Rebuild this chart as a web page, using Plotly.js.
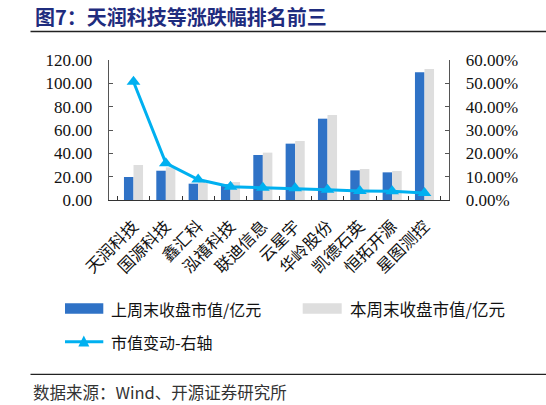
<!DOCTYPE html>
<html>
<head>
<meta charset="utf-8">
<script src="https://cdn.plot.ly/plotly-3.0.1.min.js"></script>
<style>html,body{margin:0;padding:0;background:#fff;}#chart{width:546px;height:405px;}</style>
</head>
<body>
<div id="chart"></div>
<script>
const categories = ['天润科技','国源科技','鑫汇科','泓禧科技','联迪信息','云星宇','华岭股份','凯德石英','恒拓开源','星图测控'];
const lastWeekCap = [19.7, 25.1, 14.0, 13.5, 38.6, 48.3, 69.7, 25.4, 23.7, 109.4];
const thisWeekCap = [30.0, 28.0, 15.7, 15.4, 40.6, 50.6, 72.9, 26.6, 24.9, 112.3];
const capChangePct = [50.7, 15.8, 8.8, 5.7, 5.3, 5.0, 4.4, 3.9, 3.7, 3.0];
const seriesNames = ['上周末收盘市值/亿元', '本周末收盘市值/亿元', '市值变动-右轴'];
const titleText = '图7：天润科技等涨跌幅排名前三';
const sourceText = '数据来源：Wind、开源证券研究所';

const W = 546, H = 405;
const M = {l: 109, r: 97, t: 60, b: 205};
const PW = W - M.l - M.r, PH = H - M.t - M.b;
const px = x => (x - M.l) / PW;
const py = y => (H - M.b - y) / PH;

const BLUE = '#2F72C6', GREY = '#DEDEDE', CYAN = '#00B0F0';
const CJK = 'Noto Sans CJK SC';
const SERIF = 'Liberation Serif, Times New Roman, serif';

const traces = [
  {type: 'bar', x: categories, y: lastWeekCap, name: seriesNames[0], marker: {color: BLUE}, hoverinfo: 'skip'},
  {type: 'bar', x: categories, y: thisWeekCap, name: seriesNames[1], marker: {color: GREY}, hoverinfo: 'skip'},
  {type: 'scatter', mode: 'lines+markers', x: categories, y: capChangePct, name: seriesNames[2], yaxis: 'y2',
   line: {color: CYAN, width: 3}, marker: {symbol: 'triangle-up', size: 12, color: CYAN}, hoverinfo: 'skip'}
];

const shapes = [
  {type: 'line', xref: 'paper', yref: 'paper', x0: px(30.5), x1: px(546), y0: py(31.5), y1: py(31.5), line: {color: '#222', width: 1.3}},
  {type: 'line', xref: 'paper', yref: 'paper', x0: px(30.5), x1: px(546), y0: py(374.3), y1: py(374.3), line: {color: '#222', width: 1.3}},
  {type: 'rect', xref: 'paper', yref: 'paper', x0: px(65), x1: px(103.3), y0: py(303.3), y1: py(313.8), line: {width: 0}, fillcolor: BLUE},
  {type: 'rect', xref: 'paper', yref: 'paper', x0: px(302.7), x1: px(341.7), y0: py(303.3), y1: py(313.8), line: {width: 0}, fillcolor: GREY},
  {type: 'line', xref: 'paper', yref: 'paper', x0: px(65), x1: px(103.3), y0: py(341.7), y1: py(341.7), line: {color: CYAN, width: 3}},
  {type: 'path', xref: 'paper', yref: 'paper',
   path: 'M' + px(78.3) + ',' + py(346.5) + ' L' + px(89.3) + ',' + py(346.5) + ' L' + px(83.8) + ',' + py(335.5) + ' Z',
   line: {width: 0}, fillcolor: CYAN}
];

const annotations = [
  {xref: 'paper', yref: 'paper', x: px(33), y: py(16.5), xanchor: 'left', yanchor: 'middle', showarrow: false, text: '<b>' + titleText + '</b>', font: {family: CJK, size: 20, color: '#1F2C7E'}},
  {xref: 'paper', yref: 'paper', x: px(109.3), y: py(308.5), xanchor: 'left', yanchor: 'middle', showarrow: false, text: seriesNames[0], font: {family: CJK, size: 16, color: '#111'}},
  {xref: 'paper', yref: 'paper', x: px(348.3), y: py(308.5), xanchor: 'left', yanchor: 'middle', showarrow: false, text: seriesNames[1], font: {family: CJK, size: 16.5, color: '#111'}},
  {xref: 'paper', yref: 'paper', x: px(109.3), y: py(342), xanchor: 'left', yanchor: 'middle', showarrow: false, text: seriesNames[2], font: {family: CJK, size: 16, color: '#111'}},
  {xref: 'paper', yref: 'paper', x: px(30.5), y: py(391.5), xanchor: 'left', yanchor: 'middle', showarrow: false, text: sourceText, font: {family: CJK, size: 16.5, color: '#333'}}
];

const layout = {
  width: W, height: H,
  margin: M,
  paper_bgcolor: '#fff', plot_bgcolor: '#fff',
  showlegend: false,
  barmode: 'group', bargap: 0.41, bargroupgap: 0,
  xaxis: {type: 'category', showline: true, linecolor: '#333', linewidth: 1.3, ticks: 'inside', ticklen: 4, tickcolor: '#333',
          tickson: 'boundaries', tickangle: -45, tickfont: {family: CJK, size: 16.5, color: '#111'}, ticklabelstandoff: 9,
          showgrid: false, zeroline: false, fixedrange: true},
  yaxis: {range: [0, 120], dtick: 20, tickformat: '.2f', showline: true, linecolor: '#555', linewidth: 1.3, ticks: 'inside', ticklen: 4, tickcolor: '#555',
          showgrid: false, zeroline: false, tickfont: {family: SERIF, size: 17, color: '#111'}, ticklabelstandoff: 12},
  yaxis2: {range: [0, 60], dtick: 10, tickformat: '.2f', ticksuffix: '%', overlaying: 'y', side: 'right', showline: true, linecolor: '#555', linewidth: 1.3,
           ticks: 'inside', ticklen: 4, tickcolor: '#555', showgrid: false, zeroline: false, tickfont: {family: SERIF, size: 17, color: '#111'}, ticklabelstandoff: 12},
  shapes: shapes,
  annotations: annotations
};

Plotly.newPlot('chart', traces, layout, {staticPlot: true, displayModeBar: false});
</script>
</body>
</html>
